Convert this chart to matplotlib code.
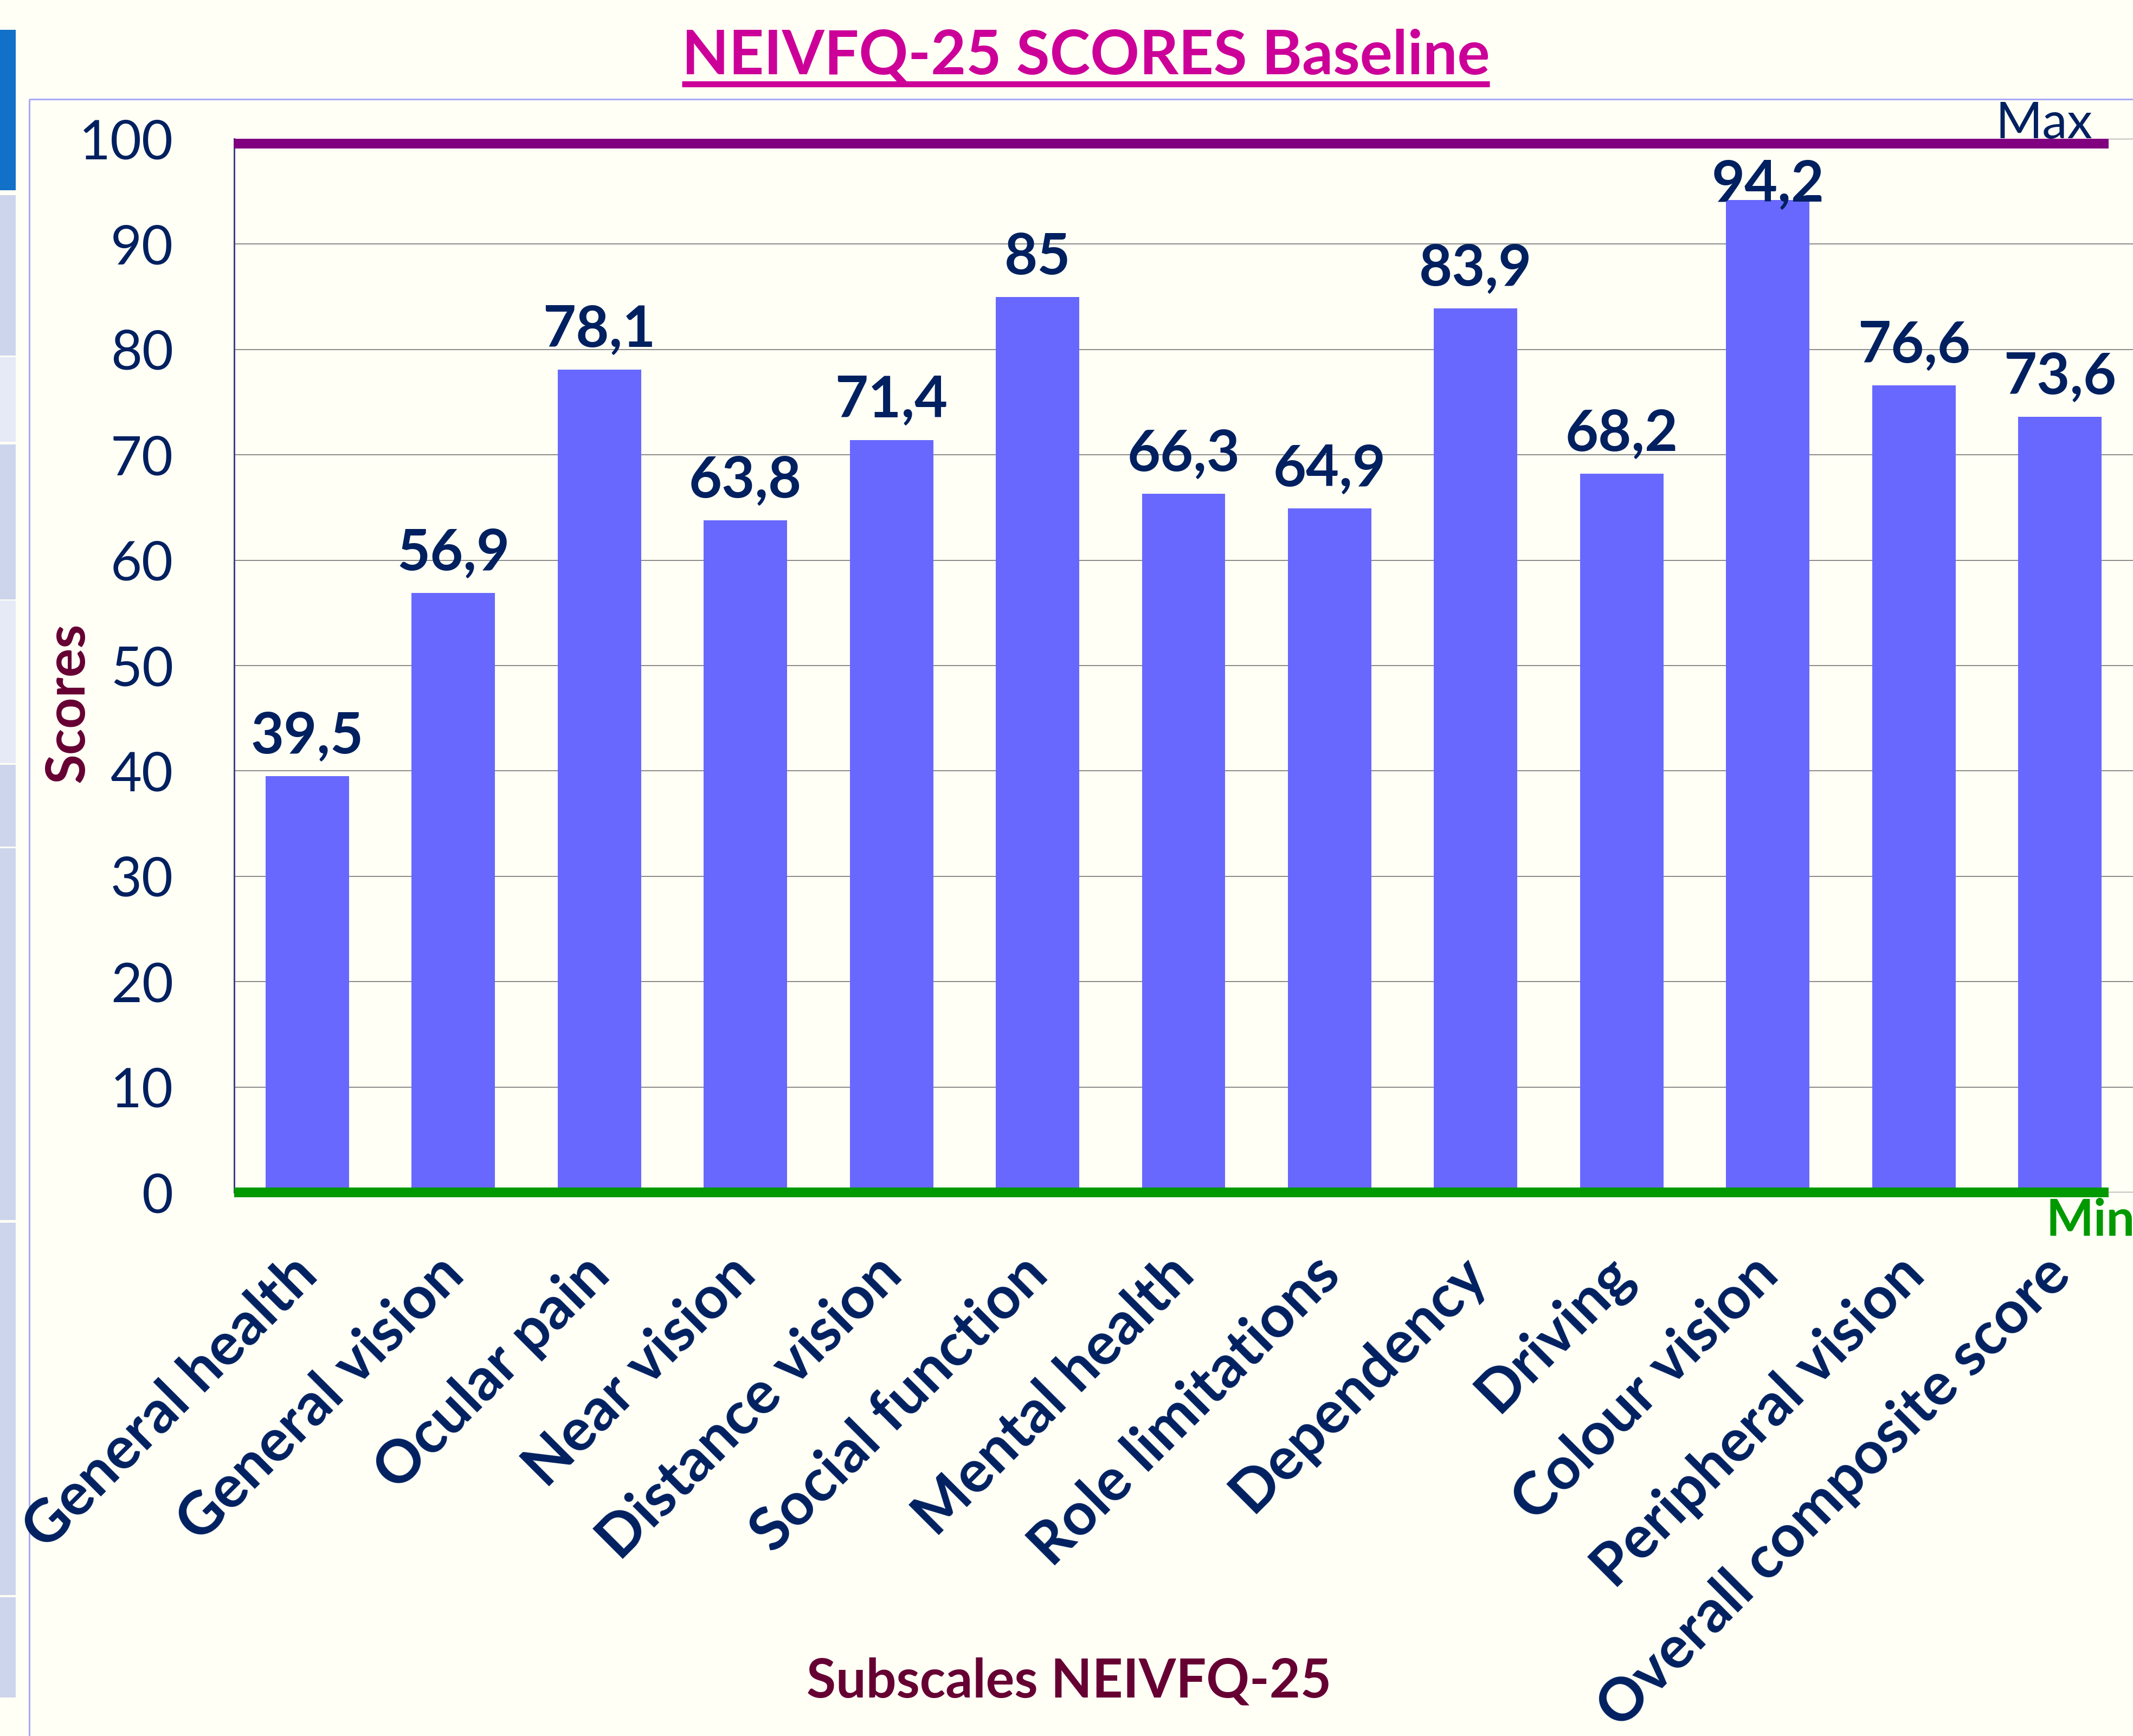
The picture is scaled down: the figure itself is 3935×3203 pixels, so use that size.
import matplotlib
matplotlib.use("Agg")
import matplotlib.pyplot as plt
from matplotlib.patches import Rectangle
from matplotlib.lines import Line2D
from matplotlib.transforms import offset_copy, ScaledTranslation

# ---------------- data ----------------
categories = ["General health", "General vision", "Ocular pain", "Near vision",
              "Distance vision", "Social function", "Mental health", "Role limitations",
              "Dependency", "Driving", "Colour vision", "Peripheral vision",
              "Overall composite score"]
scores = [39.5, 56.9, 78.1, 63.8, 71.4, 85.0, 66.3, 64.9, 83.9, 68.2, 94.2, 76.6, 73.6]
y_ticks = [0, 10, 20, 30, 40, 50, 60, 70, 80, 90, 100]
max_score = 100
min_score = 0
title = "NEIVFQ-25 SCORES Baseline"
x_title = "Subscales NEIVFQ-25"
y_title = "Scores"

# ---------------- style ----------------
W, H, DPI = 3935, 3203, 100
BG = "#FFFFF5"
NAVY = "#002060"
MAROON = "#660033"
BAR = "#6868FF"
FONT = ["Lato", "DejaVu Sans"]
plt.rcParams["font.family"] = FONT

def pt(px):
    return px * 72.0 / DPI

fig = plt.figure(figsize=(W / DPI, H / DPI), dpi=DPI, facecolor=BG)

# background layer in pixel coordinates (sidebar + chart-area border)
bg = fig.add_axes([0, 0, 1, 1], zorder=-5)
bg.set_xlim(0, W)
bg.set_ylim(H, 0)
bg.axis("off")
side_blocks = [(55, 351, "#1170C8"), (360, 656, "#CDD5EC"), (659, 815, "#E6EAF7"),
               (820, 1106, "#CDD5EC"), (1108, 1408, "#E6EAF7"), (1411, 1562, "#CDD5EC"),
               (1565, 2251, "#CDD5EC"), (2256, 2943, "#CDD5EC"), (2947, 3132, "#CDD5EC")]
for y0, y1, c in side_blocks:
    bg.add_patch(Rectangle((0, y0), 29, y1 - y0, facecolor=c, edgecolor="none"))
bg.add_patch(Rectangle((54, 183), W + 200, H + 200, facecolor="none",
                       edgecolor="#A8A8F8", lw=pt(3)))

# ---------------- main axes ----------------
ax_left, ax_right = 432, W
ax_top, ax_bottom = 256, 2200
ax = fig.add_axes([ax_left / W, (H - ax_bottom) / H,
                   (ax_right - ax_left) / W, (ax_bottom - ax_top) / H])
ax.set_facecolor("none")
ax.set_xlim(-0.5, len(categories) - 0.5)
ax.set_ylim(min_score, max_score)
ax.set_axisbelow(True)

x = list(range(len(categories)))
ax.bar(x, scores, width=0.571, color=BAR, edgecolor="none", zorder=2)

ax.set_yticks(y_ticks)
ax.set_yticklabels([str(t) for t in y_ticks])
ax.tick_params(axis="y", length=0, pad=pt(112), labelsize=72, labelcolor=NAVY)
ax.set_xticks([])
ax.yaxis.grid(True, color="#8C8C8C", lw=pt(2))
for s in ["top", "right", "bottom"]:
    ax.spines[s].set_visible(False)
ax.spines["left"].set_color("#404080")
ax.spines["left"].set_linewidth(pt(3))

# Max / Min reference lines
line_frac = (3890 - ax_left) / (ax_right - ax_left)
ax.add_line(Line2D([0, line_frac], [max_score, max_score],
                   transform=ax.get_yaxis_transform() + ScaledTranslation(0, -9 / DPI, fig.dpi_scale_trans),
                   color="#800080", lw=pt(18), solid_capstyle="butt", clip_on=False, zorder=4))
ax.add_line(Line2D([0, line_frac], [min_score, min_score], transform=ax.get_yaxis_transform(),
                   color="#009900", lw=pt(18), solid_capstyle="butt", clip_on=False, zorder=4))

# value labels
ppu = (ax_bottom - ax_top) / (max_score - min_score)
for i, v in enumerate(scores):
    ly = min(v + 42 / ppu, max_score - 116 / ppu)
    ax.text(i, ly, f"{v:g}".replace(".", ","), ha="center", va="baseline",
            fontsize=76, fontweight="bold", color=NAVY, zorder=5)

# category labels
cat_tr = offset_copy(ax.transData, fig=fig, x=24, y=-157, units="dots")
for i, c in enumerate(categories):
    ax.text(i, 0, c, transform=cat_tr, ha="right", va="baseline", rotation=45,
            rotation_mode="anchor", fontsize=79, fontweight="bold", color=NAVY)

# Max / Min text
ax.text(3681, 255, "Max", transform=bg.transData, ha="left", va="baseline",
        fontsize=67, color=NAVY)
ax.text(3774, 2280, "Min", transform=bg.transData, ha="left", va="baseline",
        fontsize=67, fontweight="bold", color="#009900")

# axis titles
bg.text(155, 1296, y_title, rotation=90, rotation_mode="anchor", ha="center",
        va="baseline", fontsize=72, fontweight="bold", color=MAROON)
bg.text(1972, 3131, x_title, ha="center", va="baseline", fontsize=71,
        fontweight="bold", color=MAROON)

# title with underline
t = bg.text(2003, 137, title, ha="center", va="baseline", fontsize=81,
            fontweight="bold", color="#CC0099")
fig.canvas.draw()
bb = t.get_window_extent(renderer=fig.canvas.get_renderer())
bg.plot([bb.x0, bb.x1], [154.5, 154.5], color="#CC0099", lw=pt(11),
        solid_capstyle="butt")

fig.savefig("out.png", dpi=DPI, facecolor=BG)
